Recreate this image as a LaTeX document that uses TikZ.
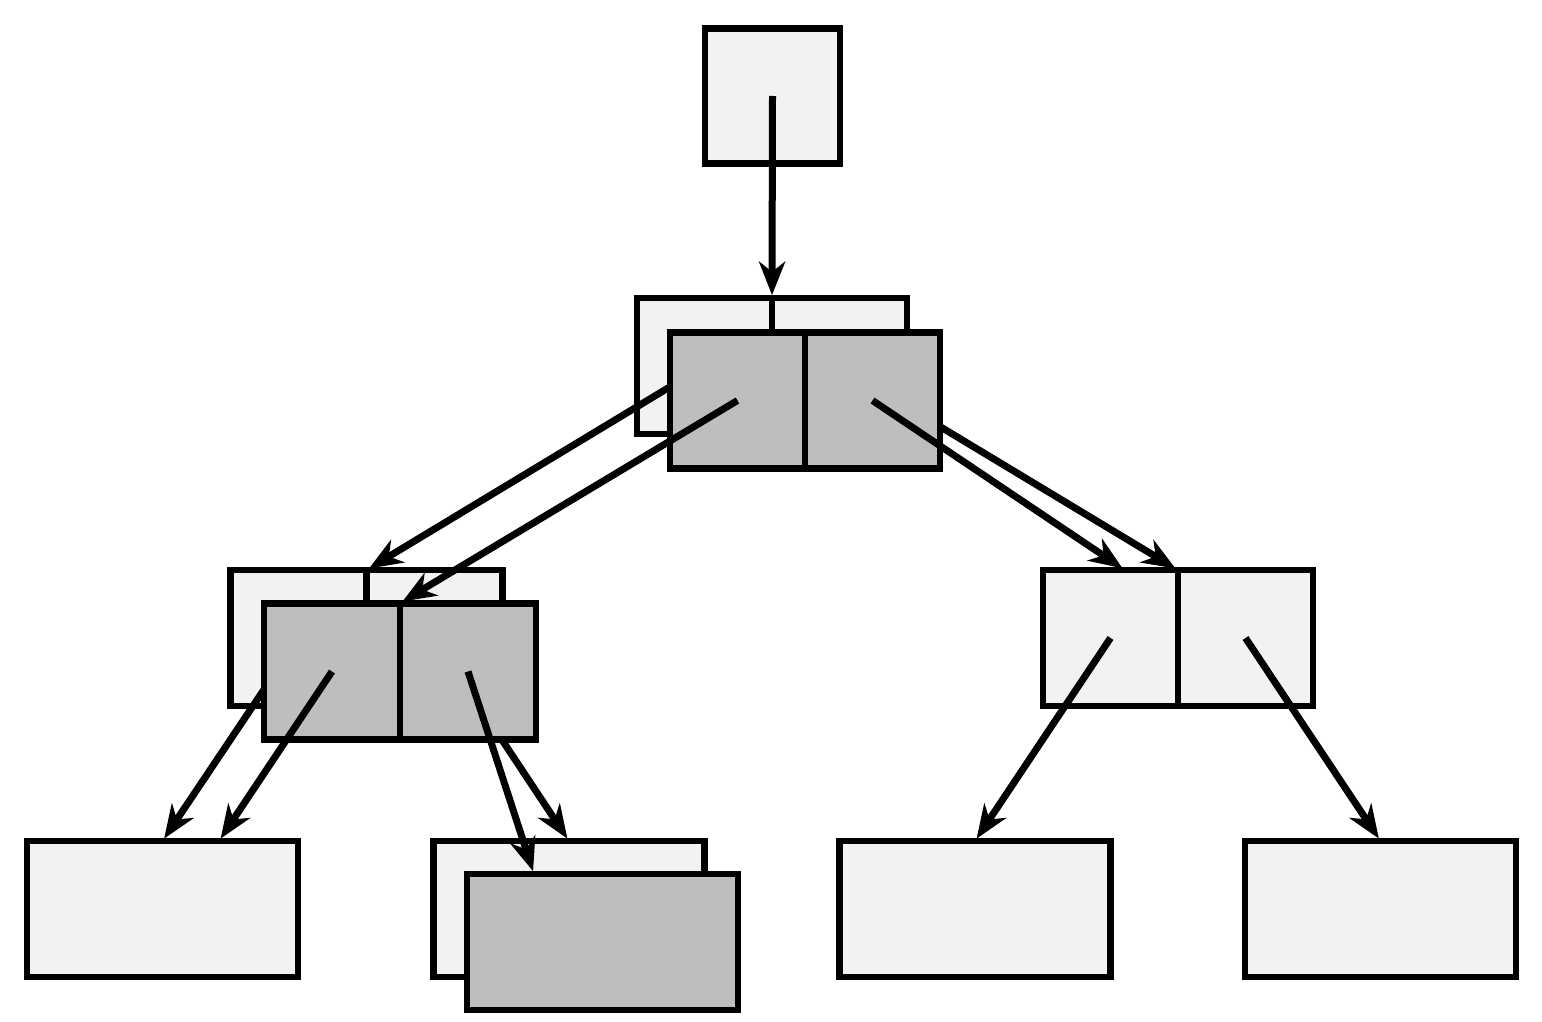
\documentclass[tikz,border=0pt]{standalone}
\usetikzlibrary{calc}
\definecolor{lightfill}{HTML}{F2F2F2}
\definecolor{darkfill}{HTML}{BEBEBE}
\newcommand{\linkarrow}[2]{%
  \coordinate (tp) at ($(#2)!3pt!(#1)$);
  \coordinate (bk) at ($(tp)!34pt!(#1)$);
  \coordinate (in) at ($(tp)!23pt!(#1)$);
  \coordinate (w1) at ($(bk)!13.5pt!90:(tp)$);
  \coordinate (w2) at ($(bk)!13.5pt!-90:(tp)$);
  \draw[link] (#1) -- (in);
  \fill[black] (tp) -- (w1) -- (in) -- (w2) -- cycle;
}
\begin{document}
\begin{tikzpicture}[x=1pt,y=-1pt,
  cell/.style={draw=black,line width=6.8pt,fill=lightfill,minimum width=135pt,minimum height=135pt,inner sep=0pt,outer sep=0pt},
  wide/.style={cell,minimum width=271pt,minimum height=136pt},
  darkcell/.style={fill=darkfill},
  link/.style={draw=black,line width=7pt}]
\useasboundingbox (0,0) rectangle (1542,1022);
% back layer boxes
\node[cell] (top) at (772.5,96) {};
\node[cell,minimum height=136pt] (l1bl) at (704.5,366) {};
\node[cell,minimum height=136pt] (l1br) at (839.5,366) {};
\node[cell,minimum width=136pt,minimum height=136pt] (l2bl) at (298.5,638) {};
\node[cell,minimum width=136pt,minimum height=136pt] (l2br) at (434.5,638) {};
\node[cell,minimum height=136pt] (l2rl) at (1110.5,638) {};
\node[cell,minimum height=136pt] (l2rr) at (1245.5,638) {};
\node[wide] (b1) at (162.5,909) {};
\node[wide] (b2b) at (569,909) {};
\node[wide] (b3) at (975,909) {};
\node[wide] (b4) at (1380.5,909) {};
\coordinate (t0) at (400,603);
\coordinate (t1) at (1125,570);
\coordinate (t2) at (219,841);
\coordinate (t3) at (534,874);
% arrows from back cells of level 1
\linkarrow{top.center}{l1bl.north east}
\linkarrow{l1bl.center}{l2bl.north east}
\linkarrow{l1br.center}{l2rl.north east}
% front level 1
\node[cell,darkcell,minimum height=136pt] (l1fl) at (737.5,400.5) {};
\node[cell,darkcell,minimum height=136pt] (l1fr) at (872.5,400.5) {};
\linkarrow{l1fl.center}{t0}
% back arrows of level 2
\linkarrow{l2bl.center}{b1.north}
\linkarrow{l2br.center}{b2b.north}
% front level 2
\node[cell,darkcell,minimum width=136pt,minimum height=136pt] (l2fl) at (332,671.5) {};
\node[cell,darkcell,minimum width=136pt,minimum height=136pt] (l2fr) at (468,671.5) {};
\node[wide,darkcell] (b2f) at (602.5,942) {};
\linkarrow{l1fr.center}{t1}
\linkarrow{l2fl.center}{t2}
\linkarrow{l2fr.center}{t3}
\linkarrow{l2rl.center}{b3.north}
\linkarrow{l2rr.center}{b4.north}
\end{tikzpicture}
\end{document}
